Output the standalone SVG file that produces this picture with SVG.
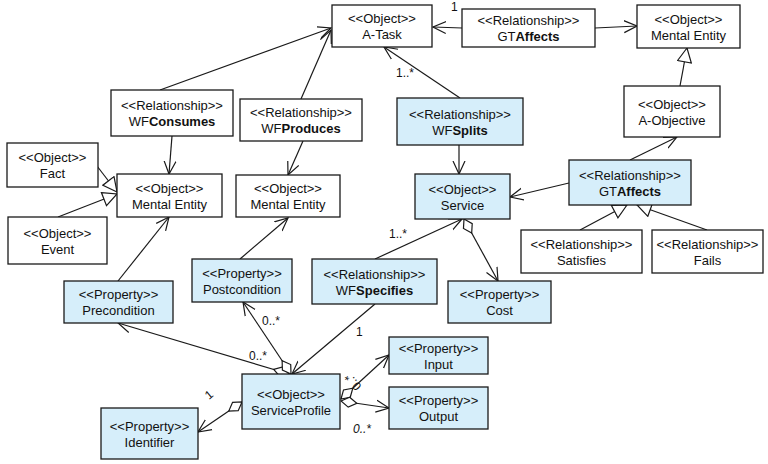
<svg xmlns="http://www.w3.org/2000/svg" width="768" height="464" viewBox="0 0 768 464">
<style>
.n rect{stroke:#1a1a1a;stroke-width:1.3;fill:#fff}
.n.b rect{fill:#d6eefa}
.n text{font-family:"Liberation Sans",Arial,sans-serif;font-size:13px;text-anchor:middle;fill:#111}
.bd{font-weight:bold}
#connectors path{fill:none;stroke:#1a1a1a;stroke-width:1.2}
.lab{font-family:"Liberation Sans",Arial,sans-serif;font-size:12px;fill:#111}
</style>
<defs>
<marker id="arr" viewBox="0 0 14 14" markerUnits="userSpaceOnUse" markerWidth="14" markerHeight="14" refX="13" refY="7" orient="auto">
<path d="M0,1 L13,7 L0,13" fill="none" stroke="#1a1a1a" stroke-width="1.2"/>
</marker>
<marker id="gen" viewBox="0 0 16 16" markerUnits="userSpaceOnUse" markerWidth="16" markerHeight="16" refX="15" refY="8" orient="auto">
<path d="M1,1 L15,8 L1,15 Z" fill="#fff" stroke="#1a1a1a" stroke-width="1.2"/>
</marker>
<marker id="dia" viewBox="0 0 20 12" markerUnits="userSpaceOnUse" markerWidth="20" markerHeight="12" refX="1" refY="6" orient="auto">
<path d="M1,6 L9,1 L17,6 L9,11 Z" fill="#fff" stroke="#1a1a1a" stroke-width="1.2"/>
</marker>
</defs>
<rect width="768" height="464" fill="#fff"/>
<g id="connectors">
<path d="M160,90 L331,28" marker-end="url(#arr)"/>
<path d="M172,136 L169,174" marker-end="url(#arr)"/>
<path d="M301,99 L331,30" marker-end="url(#arr)"/>
<path d="M303,141 L288,175" marker-end="url(#arr)"/>
<path d="M462,28 L433,27" marker-end="url(#arr)"/>
<path d="M595,28 L637,26" marker-end="url(#arr)"/>
<path d="M460,98 L384,47" marker-end="url(#arr)"/>
<path d="M459,145 L459,174" marker-end="url(#arr)"/>
<path d="M680,86 L687,48" marker-end="url(#gen)"/>
<path d="M630,160 L677,137" marker-end="url(#arr)"/>
<path d="M569,183 L510,197" marker-end="url(#arr)"/>
<path d="M580,230 L627,205" marker-end="url(#gen)"/>
<path d="M707,230 L637,205" marker-end="url(#gen)"/>
<path d="M97,166 L117,192" marker-end="url(#gen)"/>
<path d="M58,217 L117,194" marker-end="url(#gen)"/>
<path d="M118,281 L169,217" marker-end="url(#arr)"/>
<path d="M240,259 L288,218" marker-end="url(#arr)"/>
<path d="M375,259 L462,219" marker-end="url(#arr)"/>
<path d="M464,219 L498,281" marker-start="url(#dia)" marker-end="url(#arr)"/>
<path d="M375,304 L292,374" marker-end="url(#arr)"/>
<path d="M289,374 L118,323" marker-start="url(#dia)" marker-end="url(#arr)"/>
<path d="M291,374 L243,302" marker-start="url(#dia)" marker-end="url(#arr)"/>
<path d="M242,402 L198,432" marker-start="url(#dia)" marker-end="url(#arr)"/>
<path d="M341,399 L389,355" marker-start="url(#dia)" marker-end="url(#arr)"/>
<path d="M341,401 L389,408" marker-start="url(#dia)" marker-end="url(#arr)"/>
<text class="lab" x="451" y="11" font-size="13">1</text>
<text class="lab" x="396" y="77">1..*</text>
<text class="lab" x="389" y="238">1..*</text>
<text class="lab" x="356" y="336">1</text>
<text class="lab" x="249" y="360">0..*</text>
<text class="lab" x="262" y="325">0..*</text>
<text class="lab" font-size="10" transform="translate(209,400) rotate(-40)">1</text>
<text class="lab" font-size="11" transform="translate(362,386) rotate(228)">0..*</text>
<text class="lab" x="353" y="433" font-style="italic">0..*</text>
</g>
<g id="atask" class="n"><rect x="332" y="5" width="100" height="42"/><text x="382" y="23">&lt;&lt;Object&gt;&gt;</text><text x="382" y="39">A-Task</text></g>
<g id="gtaffects-top" class="n"><rect x="462" y="9" width="133" height="38"/><text x="528.5" y="25">&lt;&lt;Relationship&gt;&gt;</text><text x="528.5" y="41">GT<tspan class="bd">Affects</tspan></text></g>
<g id="mental-entity-tr" class="n"><rect x="637" y="5" width="103" height="43"/><text x="688.5" y="23.5">&lt;&lt;Object&gt;&gt;</text><text x="688.5" y="39.5">Mental Entity</text></g>
<g id="a-objective" class="n"><rect x="624" y="86" width="96" height="51"/><text x="672" y="108.5">&lt;&lt;Object&gt;&gt;</text><text x="672" y="124.5">A-Objective</text></g>
<g id="wfconsumes" class="n"><rect x="111" y="90" width="122" height="46"/><text x="172" y="110">&lt;&lt;Relationship&gt;&gt;</text><text x="172" y="126">WF<tspan class="bd">Consumes</tspan></text></g>
<g id="wfproduces" class="n"><rect x="240" y="99" width="122" height="42"/><text x="301" y="117">&lt;&lt;Relationship&gt;&gt;</text><text x="301" y="133">WF<tspan class="bd">Produces</tspan></text></g>
<g id="fact" class="n"><rect x="7" y="143" width="91" height="44"/><text x="52.5" y="162">&lt;&lt;Object&gt;&gt;</text><text x="52.5" y="178">Fact</text></g>
<g id="mental-entity-l" class="n"><rect x="117" y="174" width="105" height="43"/><text x="169.5" y="192.5">&lt;&lt;Object&gt;&gt;</text><text x="169.5" y="208.5">Mental Entity</text></g>
<g id="mental-entity-m" class="n"><rect x="236" y="175" width="104" height="42"/><text x="288" y="193">&lt;&lt;Object&gt;&gt;</text><text x="288" y="209">Mental Entity</text></g>
<g id="event" class="n"><rect x="8" y="217" width="99" height="47"/><text x="57.5" y="237.5">&lt;&lt;Object&gt;&gt;</text><text x="57.5" y="253.5">Event</text></g>
<g id="wfsplits" class="n b"><rect x="397" y="98" width="126" height="47"/><text x="460" y="118.5">&lt;&lt;Relationship&gt;&gt;</text><text x="460" y="134.5">WF<tspan class="bd">Splits</tspan></text></g>
<g id="service" class="n b"><rect x="415" y="174" width="95" height="45"/><text x="462.5" y="193.5">&lt;&lt;Object&gt;&gt;</text><text x="462.5" y="209.5">Service</text></g>
<g id="gtaffects-low" class="n b"><rect x="569" y="160" width="122" height="45"/><text x="630" y="179.5">&lt;&lt;Relationship&gt;&gt;</text><text x="630" y="195.5">GT<tspan class="bd">Affects</tspan></text></g>
<g id="satisfies" class="n"><rect x="521" y="230" width="121" height="43"/><text x="581.5" y="248.5">&lt;&lt;Relationship&gt;&gt;</text><text x="581.5" y="264.5">Satisfies</text></g>
<g id="fails" class="n"><rect x="652" y="230" width="111" height="43"/><text x="707.5" y="248.5">&lt;&lt;Relationship&gt;&gt;</text><text x="707.5" y="264.5">Fails</text></g>
<g id="postcondition" class="n b"><rect x="192" y="259" width="100" height="43"/><text x="242" y="277.5">&lt;&lt;Property&gt;&gt;</text><text x="242" y="293.5">Postcondition</text></g>
<g id="precondition" class="n b"><rect x="64" y="281" width="109" height="42"/><text x="118.5" y="299">&lt;&lt;Property&gt;&gt;</text><text x="118.5" y="315">Precondition</text></g>
<g id="wfspecifies" class="n b"><rect x="312" y="259" width="125" height="45"/><text x="374.5" y="278.5">&lt;&lt;Relationship&gt;&gt;</text><text x="374.5" y="294.5">WF<tspan class="bd">Specifies</tspan></text></g>
<g id="cost" class="n b"><rect x="448" y="281" width="103" height="42"/><text x="499.5" y="299">&lt;&lt;Property&gt;&gt;</text><text x="499.5" y="315">Cost</text></g>
<g id="serviceprofile" class="n b"><rect x="242" y="374" width="98" height="55"/><text x="291" y="398.5">&lt;&lt;Object&gt;&gt;</text><text x="291" y="414.5">ServiceProfile</text></g>
<g id="input" class="n b"><rect x="389" y="337" width="99" height="37"/><text x="438.5" y="352.5">&lt;&lt;Property&gt;&gt;</text><text x="438.5" y="368.5">Input</text></g>
<g id="output" class="n b"><rect x="389" y="387" width="99" height="42"/><text x="438.5" y="405">&lt;&lt;Property&gt;&gt;</text><text x="438.5" y="421">Output</text></g>
<g id="identifier" class="n b"><rect x="101" y="408" width="97" height="51"/><text x="149.5" y="430.5">&lt;&lt;Property&gt;&gt;</text><text x="149.5" y="446.5">Identifier</text></g>
</svg>
